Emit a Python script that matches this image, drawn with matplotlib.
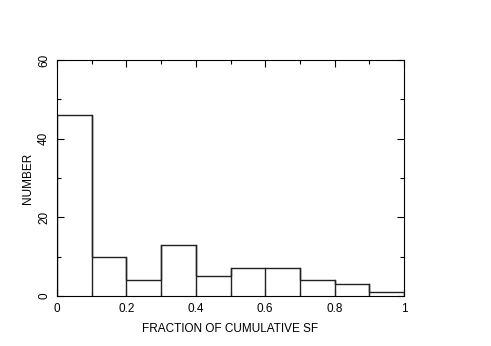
import matplotlib
matplotlib.use("Agg")
import matplotlib.pyplot as plt
import numpy as np

bin_edges = [0, 0.1, 0.2, 0.3, 0.4, 0.5, 0.6, 0.7, 0.8, 0.9, 1.0]
counts = [46, 10, 4, 13, 5, 7, 7, 4, 3, 1]
xticks = [0, 0.2, 0.4, 0.6, 0.8, 1]
xticklabels = ["0", "0.2", "0.4", "0.6", "0.8", "1"]
yticks = [0, 20, 40, 60]

plt.rcParams['font.family'] = ['Liberation Sans', 'DejaVu Sans']
fig = plt.figure(figsize=(4.91, 3.46), dpi=100)
ax = fig.add_axes([57/491, 1-296/346, (404-57)/491, (296-60)/346])

ax.stairs(counts, bin_edges, color='#222222', linewidth=1.0)
for i in range(1, len(bin_edges)-1):
    ax.plot([bin_edges[i]]*2, [0, max(counts[i-1], counts[i])], color='#222222', lw=1.0)

ax.set_xlim(0, 1)
ax.set_ylim(0, 60)
ax.set_xticks(xticks)
ax.set_xticklabels(xticklabels)
ax.set_xticks(np.arange(0.1, 1.0, 0.2), minor=True)
ax.set_yticks(yticks)
ax.set_yticklabels([str(v) for v in yticks], rotation=90, va='center')
ax.set_yticks([10, 30, 50], minor=True)
ax.tick_params(which='both', direction='in', top=True, right=True, labelsize=8.5, pad=5)
ax.tick_params(which='major', length=5, width=0.8)
ax.tick_params(which='minor', length=3, width=0.8)
for s in ax.spines.values():
    s.set_linewidth(0.8)

ax.set_xlabel("FRACTION OF CUMULATIVE SF", fontsize=8.5, labelpad=6)
ax.set_ylabel("NUMBER", fontsize=8.5, labelpad=3)

fig.savefig("out.png", dpi=100)
